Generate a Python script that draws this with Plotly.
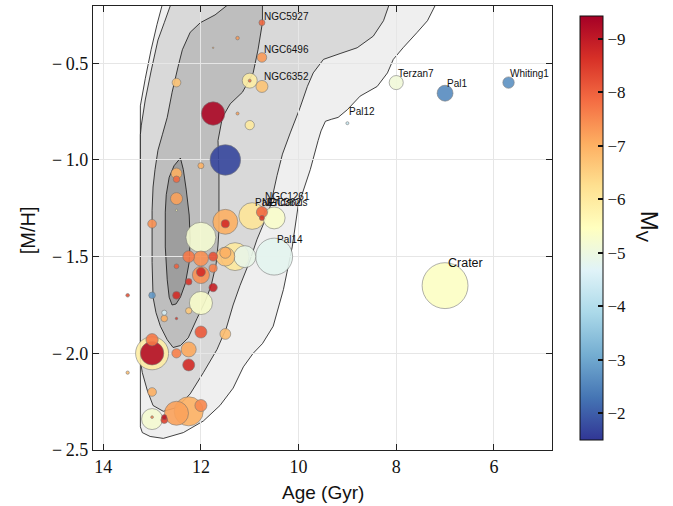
import plotly.graph_objects as go

# ---------------- cluster data ----------------
age = [10.75, 11.25, 11.75, 10.75, 12.5, 11.0, 11.0, 10.75, 11.75, 11.25,
       11.0, 11.5, 12.0, 12.5, 12.5, 12.5, 12.5, 13.0, 10.75, 10.75,
       10.95, 10.5, 11.5, 11.5, 12.0, 12.25, 12.0, 11.75, 11.5, 11.5,
       11.3, 11.1, 10.5, 12.5, 12.0, 12.0, 11.75, 12.25, 11.75, 13.5,
       13.0, 12.5, 12.0, 12.25, 12.75, 12.75, 12.5, 12.0, 11.5, 13.0,
       13.0, 13.0, 12.25, 12.5, 12.25, 13.5, 13.0, 12.0, 12.25, 12.5,
       13.0, 13.0, 12.75, 12.75, 8.0, 7.0, 5.7, 9.0, 7.0]
mh = [-0.29, -0.37, -0.42, -0.47, -0.60, -0.59, -0.59, -0.62, -0.76, -0.76,
      -0.82, -1.00, -1.03, -1.07, -1.10, -1.20, -1.26, -1.33, -1.27, -1.30,
      -1.29, -1.30, -1.32, -1.33, -1.40, -1.50, -1.51, -1.50, -1.48, -1.50,
      -1.50, -1.50, -1.50, -1.55, -1.58, -1.595, -1.56, -1.63, -1.66, -1.70,
      -1.70, -1.70, -1.74, -1.78, -1.79, -1.82, -1.82, -1.89, -1.90, -2.00,
      -2.00, -1.93, -1.98, -2.00, -2.06, -2.10, -2.20, -2.27, -2.30, -2.31,
      -2.34, -2.33, -2.33, -2.345, -0.60, -0.655, -0.60, -0.81, -1.65]
mv = [-7.9, -7.3, -7.0, -7.3, -6.7, -5.9, -7.8, -6.7, -9.3, -7.2,
      -6.0, -1.7, -7.0, -7.0, -7.9, -7.2, -5.5, -7.4, -7.9, -8.6,
      -6.1, -5.3, -7.0, -8.7, -5.2, -7.7, -7.4, -8.2, -7.0, -6.7,
      -6.0, -4.9, -4.8, -8.0, -8.7, -7.4, -7.6, -8.6, -8.9, -8.2,
      -2.8, -8.7, -5.3, -6.6, -4.5, -7.0, -8.5, -8.1, -6.8, -5.9,
      -9.2, -7.7, -7.1, -7.6, -8.7, -6.8, -7.0, -7.5, -7.0, -7.2,
      -5.2, -7.5, -9.0, -8.4, -5.1, -2.6, -2.7, -4.3, -5.4]
r_half = [2.0, 1.2, 0.5, 3.2, 2.9, 5.0, 1.0, 4.0, 7.8, 1.0,
          3.1, 10.2, 2.0, 3.6, 2.2, 4.0, 0.7, 2.9, 3.7, 1.7,
          8.9, 7.3, 8.3, 2.7, 10.0, 3.9, 5.0, 3.0, 3.7, 6.3,
          9.3, 7.3, 12.3, 1.6, 3.0, 5.7, 2.7, 2.2, 2.8, 1.2,
          2.2, 2.6, 7.7, 2.1, 1.7, 2.2, 0.8, 4.0, 3.6, 11.0,
          7.8, 4.1, 5.0, 3.1, 4.0, 1.1, 2.9, 4.0, 9.7, 8.0,
          7.0, 0.9, 1.7, 2.3, 4.7, 5.3, 3.8, 1.0, 15.3]

labels = ["NGC5927", "NGC6496", "NGC6352", "NGC1261", "Pal2", "NGC362",
          "Eridanus", "Pal14", "Terzan7", "Pal1", "Whiting1", "Pal12", "Crater"]
label_age = [10.75, 10.75, 10.75, 10.75, 10.95, 10.75, 10.5, 10.5, 8.0, 7.0, 5.7, 9.0, 7.0]
label_mh = [-0.29, -0.47, -0.62, -1.27, -1.29, -1.30, -1.30, -1.50, -0.60, -0.655, -0.60, -0.81, -1.65]

x_ticks = [14, 12, 10, 8, 6]
y_ticks = [-2.5, -2.0, -1.5, -1.0, -0.5]
cb_ticks = [2, 3, 4, 5, 6, 7, 8, 9]   # plotted as -M_V

# density contours of a model population (levels from outer to inner)
c1_age = [12.71, 12.90, 13.02, 13.14, 13.24, 13.24, 13.20, 13.04, 12.77, 12.36, 11.95, 11.61,
          11.34, 11.13, 10.93, 10.74, 10.52, 10.31, 10.13, 10.01, 9.76, 9.60, 9.54, 9.45,
          9.33, 9.19, 9.00, 8.74, 8.39, 8.18, 8.06, 7.86, 7.57, 7.36, 7.04]
c1_mh = [-0.12, -0.30, -0.43, -0.58, -0.72, -2.38, -2.41, -2.43, -2.44, -2.41, -2.35, -2.27,
         -2.18, -2.07, -2.00, -1.95, -1.86, -1.67, -1.45, -1.24, -1.05, -0.90, -0.85, -0.80,
         -0.79, -0.78, -0.74, -0.67, -0.62, -0.55, -0.48, -0.42, -0.34, -0.28, -0.12]
c2_age = [12.51, 12.75, 12.88, 13.02, 13.14, 13.22, 13.24, 13.24, 13.20, 13.10, 12.98, 12.77,
          12.49, 12.22, 11.95, 11.67, 11.48, 11.34, 11.20, 11.01, 10.85, 10.70, 10.58, 10.44,
          10.33, 10.17, 9.97, 9.82, 9.70, 9.49, 9.15, 8.80, 8.47, 8.26, 8.04]
c2_mh = [-0.12, -0.29, -0.38, -0.54, -0.69, -0.82, -0.87, -2.04, -2.10, -2.19, -2.27, -2.30,
         -2.28, -2.21, -2.10, -1.98, -1.87, -1.75, -1.65, -1.53, -1.41, -1.32, -1.24, -1.08,
         -0.97, -0.86, -0.73, -0.62, -0.55, -0.48, -0.45, -0.42, -0.36, -0.28, -0.12]
c3_age = [10.99, 11.46, 11.71, 12.01, 12.22, 12.38, 12.47, 12.59, 12.69, 12.79, 12.88, 12.94,
          12.98, 13.00, 13.00, 12.98, 12.92, 12.83, 12.69, 12.57, 12.42, 12.26, 12.08, 11.91,
          11.79, 11.69, 11.65, 11.63, 11.63, 11.65, 11.56, 11.40, 11.15, 10.93, 10.83, 10.74, 10.74]
c3_mh = [-0.12, -0.20, -0.25, -0.29, -0.34, -0.43, -0.52, -0.65, -0.78, -0.87, -0.95, -1.05,
         -1.14, -1.26, -1.53, -1.71, -1.79, -1.86, -1.93, -1.97, -1.96, -1.92, -1.82, -1.73,
         -1.65, -1.54, -1.44, -1.36, -1.07, -0.90, -0.78, -0.71, -0.65, -0.55, -0.43, -0.29, -0.12]
c4_age = [12.42, 12.55, 12.65, 12.71, 12.73, 12.73, 12.69, 12.65, 12.59, 12.51, 12.42, 12.32,
          12.24, 12.22, 12.24, 12.30, 12.36, 12.42]
c4_mh = [-0.99, -1.03, -1.09, -1.18, -1.27, -1.45, -1.62, -1.71, -1.75, -1.745, -1.71, -1.64,
         -1.53, -1.41, -1.285, -1.155, -1.05, -0.99]

# ---------------- figure ----------------
fig = go.Figure()

contours = [(c1_age, c1_mh, "#efefef"), (c2_age, c2_mh, "#d9d9d9"),
            (c3_age, c3_mh, "#bebebe"), (c4_age, c4_mh, "#9e9e9e")]
for ca, cm, col in contours:
    path = "M " + " L ".join(f"{a},{m}" for a, m in zip(ca, cm)) + " Z"
    fig.add_shape(type="path", path=path, xref="x", yref="y", layer="below",
                  fillcolor=col, line=dict(color="#111111", width=0.8))

order = sorted(range(len(age)), key=lambda i: -r_half[i])
fig.add_trace(go.Scatter(
    x=[age[i] for i in order], y=[mh[i] for i in order], mode="markers",
    marker=dict(size=[3.0 * r_half[i] for i in order],
                color=[-mv[i] for i in order],
                colorscale="RdYlBu", reversescale=True, cmin=1.5, cmax=9.43,
                opacity=0.9, line=dict(color="#6e6e6e", width=0.6),
                colorbar=dict(x=1.0617, xanchor="left", xpad=0, y=0.5, yanchor="middle",
                              len=1, lenmode="fraction", thickness=23,
                              outlinewidth=1, outlinecolor="#111111",
                              tickvals=cb_ticks,
                              ticktext=["\u2212" + str(t) for t in cb_ticks],
                              ticks="inside", ticklen=5, tickwidth=1.5, tickcolor="#111111",
                              tickfont=dict(family="Liberation Serif", size=17, color="#111111"))),
    showlegend=False, hoverinfo="skip"))

shifts = [(0, 6), (0, 8), (0, 9.5), (1, 16), (1, 14), (-2, 15), (-8, 15), (0.4, 17.4),
          (0, 9.3), (-0.3, 10), (-1, 9.3), (-0.4, 11.3), (1.3, 22.3)]
for name, a, m, (dx, dy) in zip(labels, label_age, label_mh, shifts):
    fig.add_annotation(x=a, y=m, xref="x", yref="y", text=name, showarrow=False,
                       xanchor="left", yanchor="middle", xshift=dx, yshift=dy,
                       font=dict(family="Liberation Sans", size=12.5 if name == "Crater" else 10,
                                 color="#111111"))

fig.add_annotation(x=0.5, y=-0.0946, xref="paper", yref="paper", text="Age (Gyr)",
                   showarrow=False, xanchor="center", yanchor="middle",
                   font=dict(family="Liberation Sans", size=19, color="#111111"))
fig.add_annotation(x=-0.141, y=0.4955, xref="paper", yref="paper", text="[M/H]",
                   showarrow=False, xanchor="center", yanchor="middle", textangle=-90,
                   font=dict(family="Liberation Sans", size=20, color="#111111"))
fig.add_annotation(x=1.2098, y=0.502, xref="paper", yref="paper", text="M<sub>V</sub>",
                   showarrow=False, xanchor="center", yanchor="middle", textangle=90,
                   font=dict(family="Liberation Sans", size=24, color="#111111"))

axis_common = dict(showline=True, linecolor="#222222", linewidth=1.3, mirror="ticks",
                   ticks="inside", ticklen=6, tickwidth=1.2, tickcolor="#222222",
                   showgrid=True, gridcolor="#e6e6e6", gridwidth=1, zeroline=False,
                   automargin=False,
                   tickfont=dict(family="Liberation Serif", size=18, color="#111111"))
fig.update_xaxes(range=[14.21, 4.81], tickvals=x_ticks, **axis_common)
fig.update_yaxes(range=[-2.5, -0.204], tickvals=y_ticks,
                 ticktext=["\u2212\u2009" + f"{abs(t):.1f}" for t in y_ticks], **axis_common)

fig.update_layout(width=673, height=506,
                  margin=dict(l=93, r=121, t=6, b=56, autoexpand=False),
                  plot_bgcolor="white", paper_bgcolor="white")

fig.write_html("out.html", config={"displayModeBar": False},
               post_script="document.body.style.margin='0px';document.body.style.padding='0px';")
